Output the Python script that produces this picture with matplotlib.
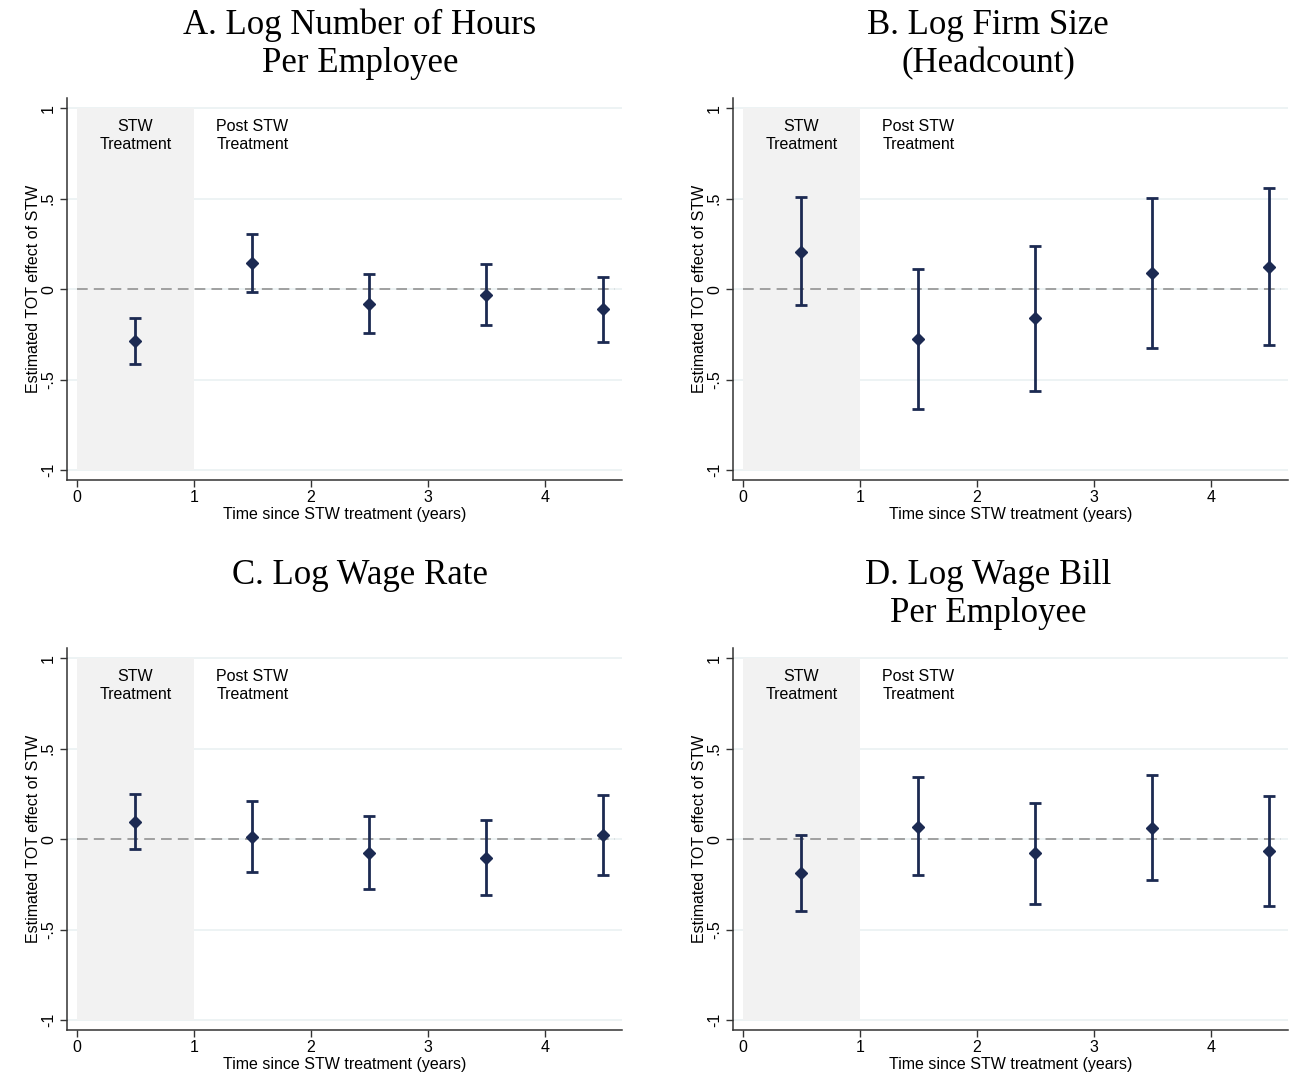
import matplotlib
matplotlib.use('Agg')
import matplotlib.pyplot as plt
import numpy as np

# years since treatment (bin midpoints)
years = [0.5, 1.5, 2.5, 3.5, 4.5]

# point estimates and 95% CI bounds per outcome
hours_est = [-0.286, 0.144, -0.080, -0.030, -0.110]
hours_lo = [-0.411, -0.017, -0.245, -0.200, -0.290]
hours_hi = [-0.162, 0.304, 0.085, 0.140, 0.070]

size_est = [0.208, -0.275, -0.162, 0.088, 0.125]
size_lo = [-0.090, -0.661, -0.562, -0.324, -0.308]
size_hi = [0.508, 0.112, 0.241, 0.503, 0.561]

wage_est = [0.096, 0.014, -0.074, -0.105, 0.024]
wage_lo = [-0.055, -0.179, -0.276, -0.311, -0.197]
wage_hi = [0.248, 0.211, 0.129, 0.106, 0.244]

bill_est = [-0.188, 0.070, -0.077, 0.064, -0.064]
bill_lo = [-0.395, -0.200, -0.357, -0.224, -0.367]
bill_hi = [0.024, 0.343, 0.202, 0.354, 0.241]

titles = ["A. Log Number of Hours\nPer Employee",
          "B. Log Firm Size\n(Headcount)",
          "C. Log Wage Rate",
          "D. Log Wage Bill\nPer Employee"]
ytick_vals = [-1, -0.5, 0, 0.5, 1]
ytick_labels = ["-1", "-.5", "0", ".5", "1"]
xtick_vals = [0, 1, 2, 3, 4]

NAVY = "#1c2a52"
SANS = "Liberation Sans"
SERIF = "Liberation Serif"
FS = 11.5

fig = plt.figure(figsize=(12.95, 10.88), dpi=100)
W, H = 1295.0, 1088.0


def make_axes(left_px, top_px):
    return fig.add_axes([left_px / W, 1 - (top_px + 382) / H, 555 / W, 382 / H])


def draw_panel(ax, est, lo, hi):
    ax.set_xlim(-0.085, 4.66)
    ax.set_ylim(-1.055, 1.057)
    for y in ytick_vals:
        ax.axhline(y, color="#eaf1f2", lw=1.2, zorder=0)
    ax.fill_between([0, 1], -1, 1, color="#f2f2f2", lw=0, zorder=1)
    ax.plot([0, 4.6], [0, 0], color="#8a8a8a", lw=1.1, ls=(0, (7, 4)), zorder=2)

    est = np.array(est)
    err = [est - np.array(lo), np.array(hi) - est]
    ax.errorbar(years, est, yerr=err, fmt="D", color=NAVY, ms=6.5, elinewidth=2,
                capsize=4, capthick=2, zorder=3)

    ax.text(0.5, 0.85, "STW\nTreatment", ha="center", va="center",
            fontsize=FS, family=SANS, linespacing=1.2, zorder=4)
    ax.text(1.5, 0.85, "Post STW\nTreatment", ha="center", va="center",
            fontsize=FS, family=SANS, linespacing=1.2, zorder=4)

    for s in ["top", "right"]:
        ax.spines[s].set_visible(False)
    for s in ["left", "bottom"]:
        ax.spines[s].set_linewidth(1.1)
        ax.spines[s].set_color("#333333")

    ax.set_yticks(ytick_vals)
    ax.set_yticklabels(ytick_labels, rotation=90, va="center", family=SANS, fontsize=FS)
    ax.set_xticks(xtick_vals)
    ax.set_xticklabels([str(v) for v in xtick_vals], family=SANS, fontsize=FS)
    ax.tick_params(axis="y", direction="out", length=5, width=1, color="#333333", pad=3)
    ax.tick_params(axis="x", direction="out", length=5, width=1, color="#333333", pad=2)
    ax.set_ylabel("Estimated TOT effect of STW", family=SANS, fontsize=FS, labelpad=0)
    ax.set_xlabel("Time since STW treatment (years)", family=SANS, fontsize=FS, labelpad=1.5)


# (axes left px, axes top px, data, title centre x px, first title line centre y px)
panels = [
    (67, 98, hours_est, hours_lo, hours_hi, 360, 25),
    (733, 98, size_est, size_lo, size_hi, 988, 25),
    (67, 648, wage_est, wage_lo, wage_hi, 360, 575),
    (733, 648, bill_est, bill_lo, bill_hi, 988, 575),
]

for (lx, ty, est, lo, hi, tx, tty), title in zip(panels, titles):
    ax = make_axes(lx, ty)
    draw_panel(ax, est, lo, hi)
    for i, line in enumerate(title.split("\n")):
        fig.text(tx / W, 1 - (tty + 39 * i) / H, line, ha="center", va="center",
                 family=SERIF, fontsize=25)

fig.savefig("out.png", dpi=100)
